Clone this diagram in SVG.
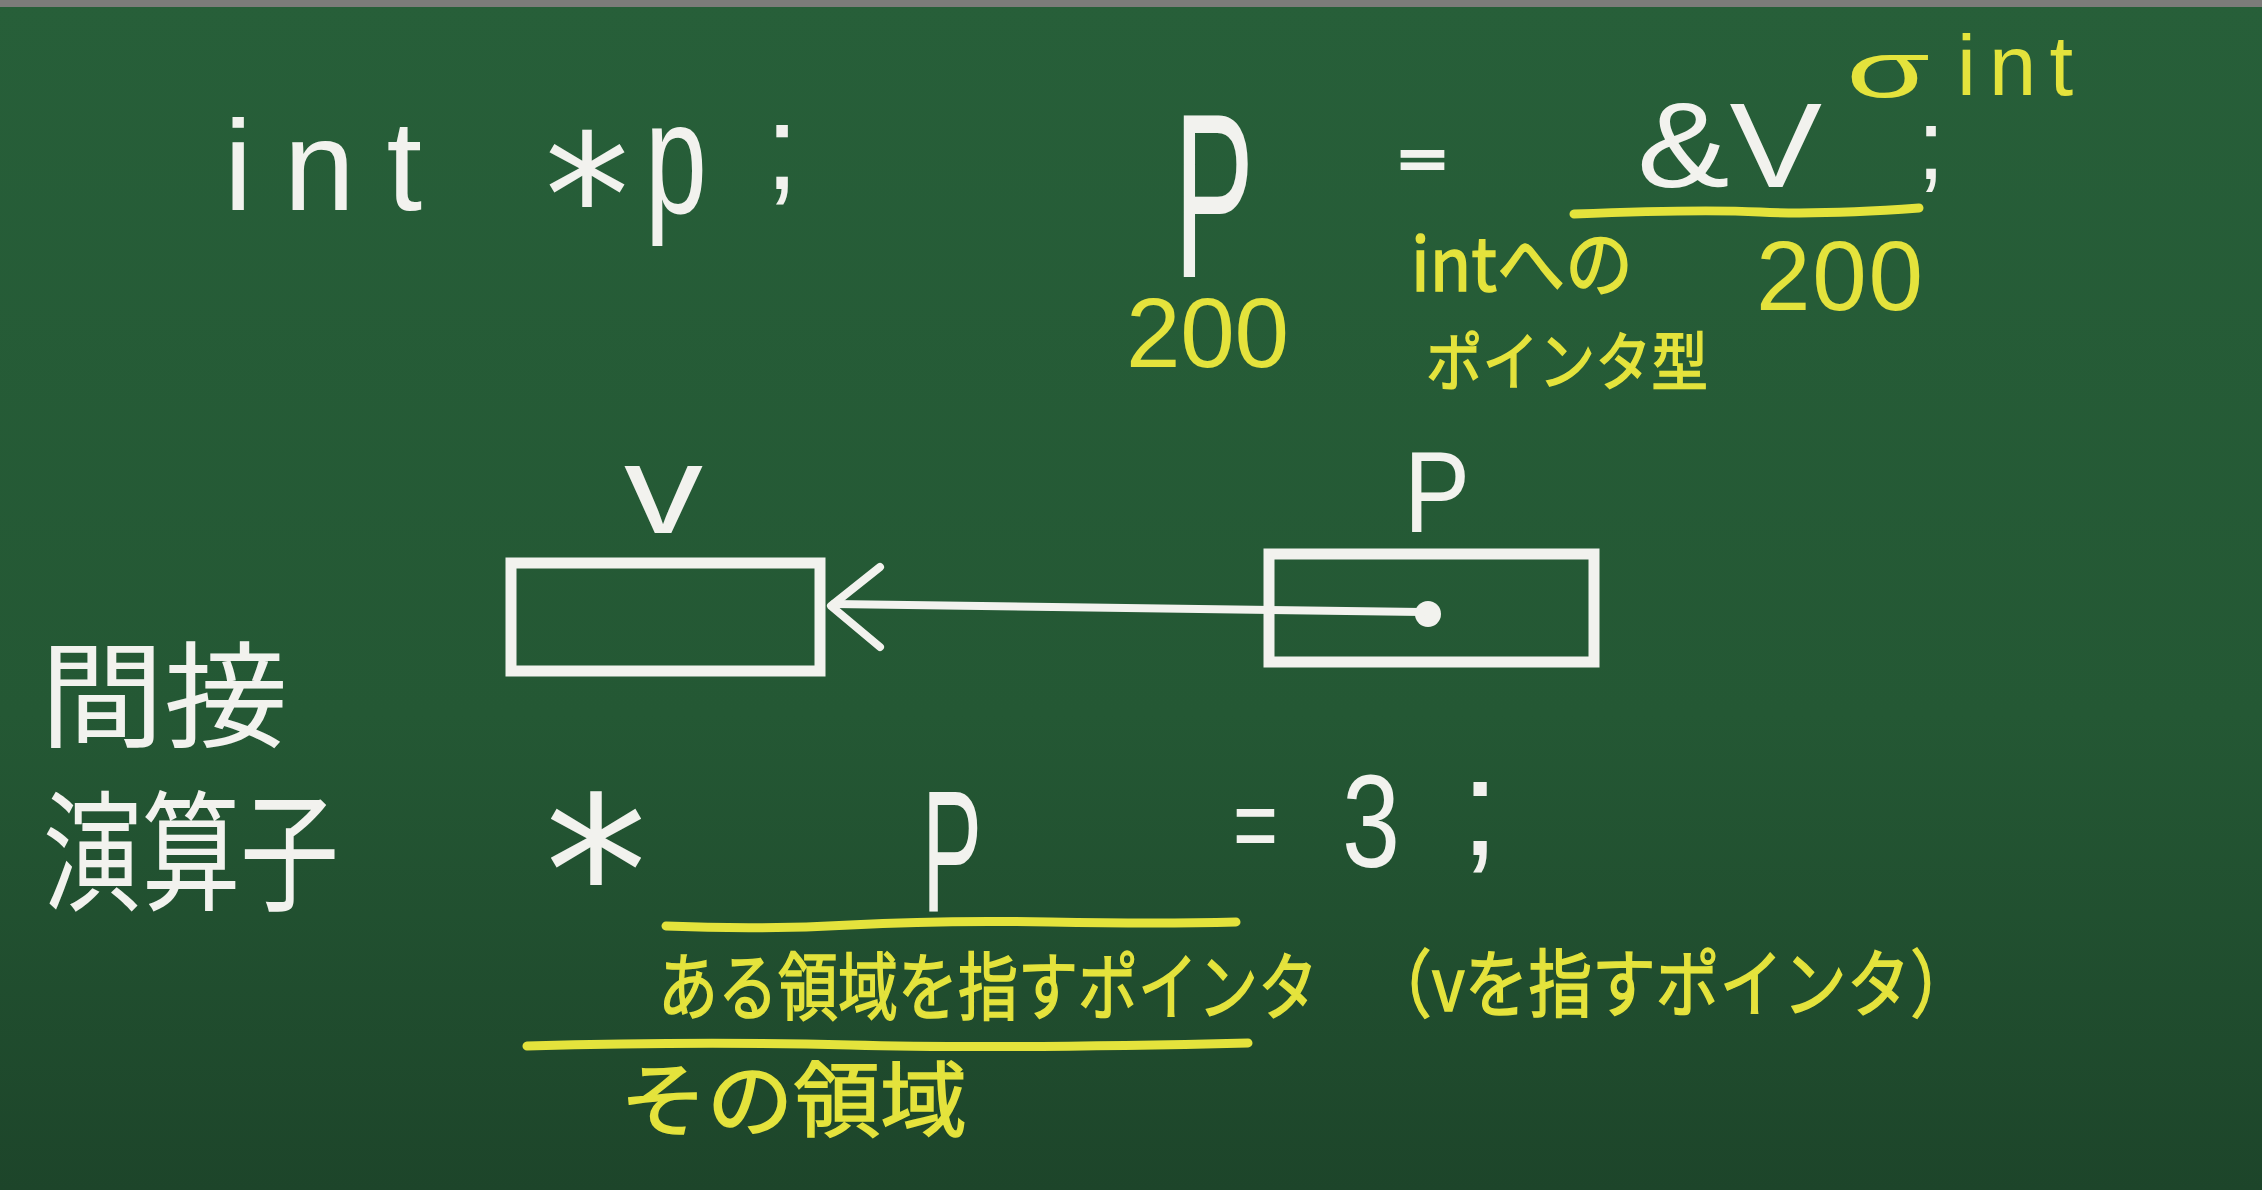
<svg xmlns="http://www.w3.org/2000/svg" width="2262" height="1190" viewBox="0 0 2262 1190">
<defs>
<linearGradient id="bg" x1="0" y1="0" x2="0" y2="1">
<stop offset="0" stop-color="#275F39"/>
<stop offset="0.6" stop-color="#245834"/>
<stop offset="1" stop-color="#1D452A"/>
</linearGradient>
<style>
.w{fill:#F2F2EE;font-family:"Liberation Sans",Arial,sans-serif;}
.y{fill:#E4E33C;font-family:"Liberation Sans",Arial,sans-serif;}
.jw{fill:#F2F2EE;font-family:"Noto Sans CJK JP",sans-serif;}
.jy{fill:#E4E33C;font-family:"Noto Sans CJK JP",sans-serif;stroke:#E4E33C;stroke-width:1.5;}
.ast{fill:#F2F2EE;font-family:"DejaVu Sans",sans-serif;}
.box{fill:none;stroke:#F2F2EE;stroke-width:11;stroke-linejoin:miter;}
.ul{fill:none;stroke:#E4E33C;stroke-width:9;stroke-linecap:round;}
.conn{fill:none;stroke:#F2F2EE;stroke-width:8;stroke-linecap:round;stroke-linejoin:round;}
</style>
</defs>
<rect width="2262" height="1190" fill="url(#bg)"/>
<rect width="2262" height="7" fill="#7C7C7A"/>

<g id="decl">
<text class="w" x="224" y="210" font-size="128" textLength="198">int</text>
<text class="ast" x="587" y="256" font-size="170" text-anchor="middle">*</text>
<text class="w" x="645" y="213" font-size="160" textLength="62" lengthAdjust="spacingAndGlyphs">p</text>
<text class="w" x="782" y="189" font-size="120" text-anchor="middle">;</text>
</g>

<g id="assign">
<text class="w" x="1174" y="277" font-size="233" textLength="80" lengthAdjust="spacingAndGlyphs">P</text>
<text class="w" x="1400" y="176" font-size="50" textLength="45" lengthAdjust="spacingAndGlyphs" stroke="#F2F2EE" stroke-width="4">=</text>
<text class="w" x="1637" y="187" font-size="121" textLength="185" lengthAdjust="spacingAndGlyphs">&amp;V</text>
<text class="w" x="1931" y="179" font-size="100" text-anchor="middle">;</text>
<text class="y" x="1846" y="97" font-size="80" textLength="84" lengthAdjust="spacingAndGlyphs">σ</text>
<text class="y" x="1957" y="95" font-size="85" textLength="116">int</text>
<path class="ul" d="M1574 214 Q1700 209 1760 212 T1919 208"/>
<text class="y" x="1126" y="367" font-size="98" textLength="163">200</text>
<text class="jy"><tspan x="1411" y="291" font-size="74" textLength="222" lengthAdjust="spacingAndGlyphs">intへの</tspan><tspan x="1426" y="385" font-size="64" textLength="282" lengthAdjust="spacingAndGlyphs">ポインタ型</tspan></text>
<text class="y" x="1756" y="310" font-size="98" textLength="167">200</text>
</g>

<g id="node-v">
<text class="w" x="624" y="533" font-size="127" textLength="79" lengthAdjust="spacingAndGlyphs">v</text>
<rect class="box" x="511" y="563" width="309" height="108"/>
</g>

<g id="node-p">
<text class="w" x="1404" y="532" font-size="115" textLength="66" lengthAdjust="spacingAndGlyphs">P</text>
<rect class="box" x="1269" y="554" width="325" height="108"/>
<circle cx="1428" cy="614" r="13" fill="#F2F2EE"/>
</g>

<g id="connectors">
<path class="conn" d="M1422 612 L834 604"/>
<path class="conn" d="M880 567 L831 606 L880 647"/>
</g>

<g id="label-op">
<text class="jw"><tspan x="40" y="738" font-size="115" textLength="248" lengthAdjust="spacingAndGlyphs">間接</tspan><tspan x="43" y="900" font-size="130" textLength="296" lengthAdjust="spacingAndGlyphs">演算子</tspan></text>
</g>

<g id="deref">
<text class="ast" x="596" y="944" font-size="205" text-anchor="middle">*</text>
<text class="w" x="922" y="911" font-size="172" textLength="60" lengthAdjust="spacingAndGlyphs">P</text>
<text class="w" x="1233" y="861" font-size="105" textLength="45" lengthAdjust="spacingAndGlyphs">=</text>
<text class="w" x="1342" y="867" font-size="131" textLength="58" lengthAdjust="spacingAndGlyphs">3</text>
<text class="w" x="1480" y="855" font-size="138" text-anchor="middle">;</text>
<path class="ul" d="M666 926 Q760 930 850 925 T1050 922 T1236 922"/>
<text class="jy" transform="translate(658 1014) scale(0.811 1)" x="0" y="0" font-size="74">ある領域を指すポインタ</text>
<text class="jy" x="1368" y="1011" font-size="74" textLength="606" lengthAdjust="spacingAndGlyphs">（vを指すポインタ）</text>
<path class="ul" d="M527 1046 Q700 1041 850 1045 T1248 1043"/>
<text class="jy" x="620" y="1130" font-size="82" textLength="347" lengthAdjust="spacingAndGlyphs">その領域</text>
</g>
</svg>
